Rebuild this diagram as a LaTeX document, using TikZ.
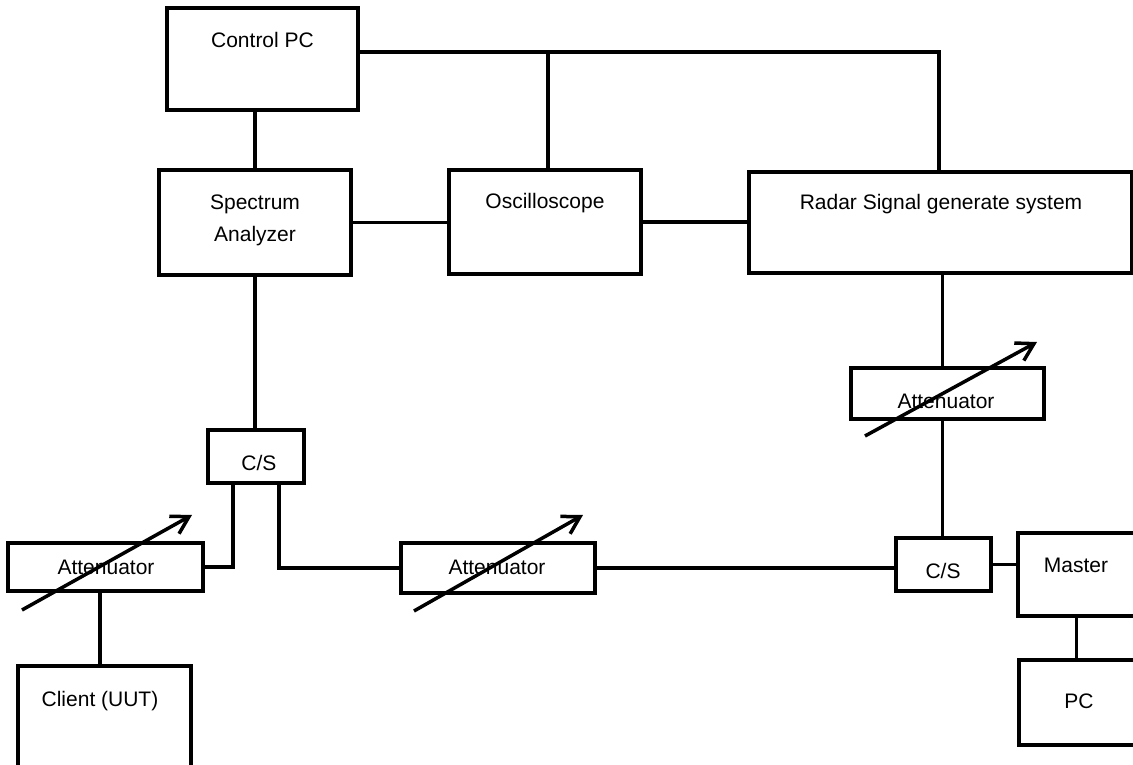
\documentclass[tikz,border=0pt]{standalone}
\usepackage{fontspec}
\setmainfont{Liberation Sans}
\usetikzlibrary{arrows.meta}
\tikzset{
  blk/.style={draw=black, line width=4pt, fill=none, inner sep=0pt, outer sep=0pt},
  lbl/.style={inner sep=0pt, outer sep=0pt, anchor=base, font=\fontsize{21}{25}\selectfont},
  wire/.style={draw=black, line width=3.5pt},
  knob/.style={draw=black, line width=3.5pt, -{Straight Barb[length=17pt,width=20pt,line width=3.5pt]}}
}
\begin{document}
\begin{tikzpicture}[x=1pt,y=-1pt]
\clip (0,0) rectangle (1133,765);
\fill[white] (0,0) rectangle (1133,765);
% boxes
\node[blk, minimum width=191pt, minimum height=102pt] (cpc) at (262.5,59) {};
\node[blk, minimum width=192pt, minimum height=105pt] (spa) at (255,222.5) {};
\node[blk, minimum width=192pt, minimum height=104pt] (osc) at (545,222) {};
\node[blk, minimum width=383pt, minimum height=101pt] (rad) at (940.5,222.5) {};
\node[blk, minimum width=193pt, minimum height=51pt] (attR) at (947.5,393.5) {};
\node[blk, minimum width=96pt, minimum height=53pt] (csL) at (256,456.5) {};
\node[blk, minimum width=195pt, minimum height=48pt] (attL) at (105.5,567) {};
\node[blk, minimum width=194pt, minimum height=50pt] (attM) at (498,568) {};
\node[blk, minimum width=95pt, minimum height=53pt] (csR) at (943.5,564.5) {};
\node[blk, minimum width=117pt, minimum height=83pt] (mas) at (1076.5,574.5) {};
\node[blk, minimum width=173pt, minimum height=109pt] (cli) at (104.5,720.5) {};
\node[blk, minimum width=116pt, minimum height=85pt] (pc) at (1077,702.5) {};
% texts
\node[lbl] (cpc-t) at (262.5,48) {Control PC};
\node[lbl] (spa-t1) at (255,209) {Spectrum};
\node[lbl] (spa-t2) at (255,241) {Analyzer};
\node[lbl] (osc-t) at (545,208) {Oscilloscope};
\node[lbl] (rad-t) at (941,209) {Radar Signal generate system};
\node[lbl] (attR-t) at (946,408) {Attenuator};
\node[lbl] (attL-t) at (106,574) {Attenuator};
\node[lbl] (attM-t) at (497,574) {Attenuator};
\node[lbl] (csL-t) at (259,470) {C/S};
\node[lbl] (csR-t) at (943,578) {C/S};
\node[lbl] (mas-t) at (1076,572) {Master};
\node[lbl] (pc-t) at (1079,708) {PC};
\node[lbl] (cli-t) at (100,706) {Client (UUT)};
% junction coordinates
\coordinate (jO) at (548,52);
\coordinate (jR) at (939,52);
\coordinate (vR) at (942.5,300);
\coordinate (vC) at (100,640);
% connectors
\draw[wire] (cpc.east |- jO) -- (jR) -- (jR |- rad.north);
\draw[wire] (jO) -- (jO |- osc.north);
\draw[wire] (spa.north) -- (spa.north |- cpc.south);
\draw[wire] (spa.east) -- (spa.east -| osc.west);
\draw[wire] (osc.east) -- (osc.east -| rad.west);
\draw[wire] (spa.south) -- (spa.south |- csL.north);
\draw[wire] (vR |- rad.south) -- (vR |- attR.north);
\draw[wire] (vR |- attR.south) -- (vR |- csR.north);
\draw[wire] ([xshift=25pt]csL.south west) |- (attL.east);
\draw[wire] ([xshift=-25pt]csL.south east) |- (attM.west);
\draw[wire] (attM.east) -- (attM.east -| csR.west);
\draw[wire] (csR.east) -- (csR.east -| mas.west);
\draw[wire] (mas.south) -- (mas.south |- pc.north);
\draw[wire] (vC |- attL.south) -- (vC |- cli.north);
% variable attenuator arrows
\draw[knob] ([shift={(14,19)}]attL.south west) -- ([shift={(-11,-28)}]attL.north east);
\draw[knob] ([shift={(13,18)}]attM.south west) -- ([shift={(-12,-28)}]attM.north east);
\draw[knob] ([shift={(14,17)}]attR.south west) -- ([shift={(-7,-26)}]attR.north east);
\end{tikzpicture}
\end{document}
